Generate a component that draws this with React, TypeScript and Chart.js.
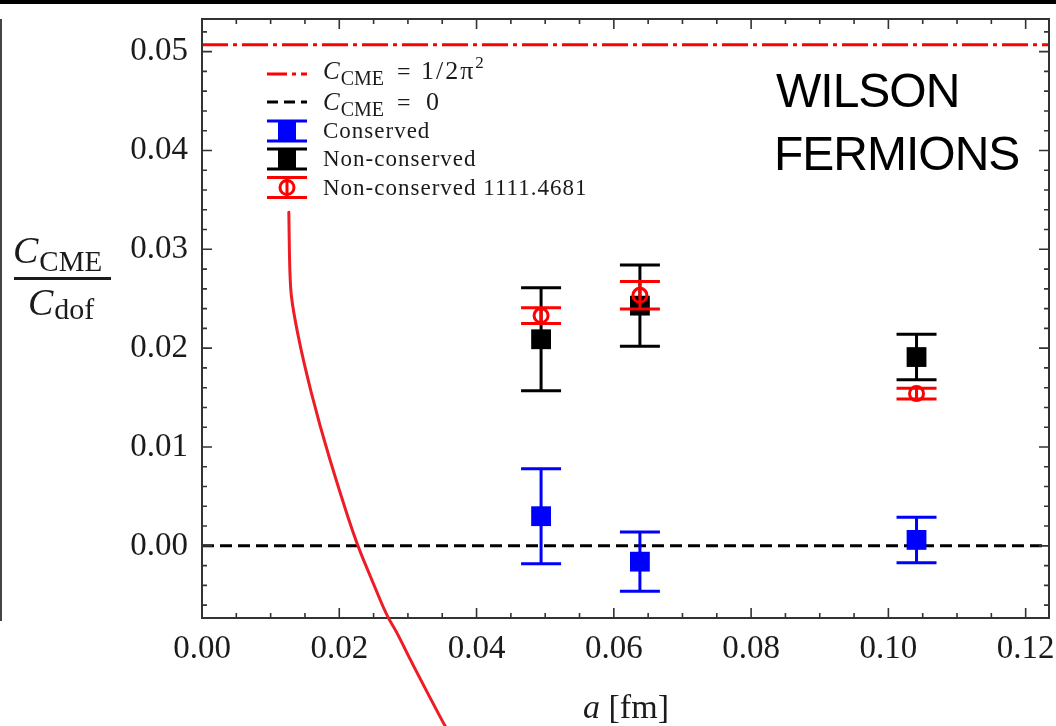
import React, { useEffect, useRef } from "react";
import { Chart, registerables } from "chart.js";

Chart.register(...registerables);

// ---- data ----
const latticeSpacing = [0.0494, 0.0638, 0.1041];
const conserved = [0.003, -0.0016, 0.0006];
const conservedErr = [0.0048, 0.003, 0.0023];
const nonConserved = [0.0209, 0.0243, 0.0191];
const nonConservedErr = [0.0052, 0.0041, 0.0023];
const nonConserved1111 = [0.0233, 0.02535, 0.0154];
const nonConserved1111Err = [0.0008, 0.0014, 0.00054];
const cmeFree = 0.0507; // C_CME = 1/2π²
const cmeZero = 0;
const xRange = [0, 0.1234];
const yRange = [-0.0073, 0.0533];
const xTickLabels = ["0.00", "0.02", "0.04", "0.06", "0.08", "0.10", "0.12"];
const yTickLabels = ["0.00", "0.01", "0.02", "0.03", "0.04", "0.05"];
// hand-drawn red annotation stroke, in data units (x, y)
const annotationX = [0.01265, 0.0128, 0.01324, 0.01469, 0.01716, 0.02007, 0.02255, 0.02487, 0.02691, 0.02836, 0.03025, 0.03505, 0.03564];
const annotationY = [0.03374, 0.02667, 0.02394, 0.01889, 0.01212, 0.00545, 0.0002, -0.00364, -0.00707, -0.00869, -0.01141, -0.01778, -0.01848];

const SERIF = '"Liberation Serif", "Times New Roman", serif';
const TEXT = "#1b1b1b";

const pts = (ys: number[]) => latticeSpacing.map((x, i) => ({ x, y: ys[i] }));
const noPadding = () => ({ left: 0, top: 0, right: 0, bottom: 0 });

const errorBarPlugin = {
  id: "errorBars",
  beforeDatasetDraw(chart: any, args: any) {
    const ds = chart.data.datasets[args.index];
    if (!ds.errors) return;
    const xs = chart.scales.x;
    const ys = chart.scales.y;
    const ctx = chart.ctx;
    ctx.save();
    ctx.strokeStyle = ds.errColor;
    ctx.lineWidth = 3;
    ctx.lineCap = "butt";
    ds.data.forEach((p: any, i: number) => {
      const px = xs.getPixelForValue(p.x);
      const top = ys.getPixelForValue(p.y + ds.errors[i]);
      const bot = ys.getPixelForValue(p.y - ds.errors[i]);
      ctx.beginPath();
      ctx.moveTo(px, top);
      ctx.lineTo(px, bot);
      ctx.moveTo(px - 20, top);
      ctx.lineTo(px + 20, top);
      ctx.moveTo(px - 20, bot);
      ctx.lineTo(px + 20, bot);
      ctx.stroke();
    });
    ctx.restore();
  },
};

function drawSub(ctx: any, x: number, y: number, main: string, mainFont: string, sub: string, subFont: string, subDy: number) {
  ctx.font = mainFont;
  ctx.fillText(main, x, y);
  const w = ctx.measureText(main).width;
  ctx.font = subFont;
  ctx.fillText(sub, x + w + 1, y + subDy);
  return x + w + 1 + ctx.measureText(sub).width;
}

const decorPlugin = {
  id: "decor",
  afterDraw(chart: any) {
    const ctx = chart.ctx;
    const { left, right, top, bottom } = chart.chartArea;
    const xs = chart.scales.x;
    const ys = chart.scales.y;
    ctx.save();
    // frame
    ctx.strokeStyle = "#333";
    ctx.lineWidth = 2;
    ctx.strokeRect(left, top, right - left, bottom - top);
    // inward ticks
    ctx.lineWidth = 1.6;
    ctx.beginPath();
    for (let i = 0; i <= 24; i++) {
      const v = i * 0.005;
      const px = xs.getPixelForValue(v);
      const len = i % 4 === 0 ? 10 : 5;
      ctx.moveTo(px, bottom);
      ctx.lineTo(px, bottom - len);
      ctx.moveTo(px, top);
      ctx.lineTo(px, top + len);
    }
    for (let i = -3; i <= 26; i++) {
      const v = i * 0.002;
      const py = ys.getPixelForValue(v);
      if (py < top || py > bottom) continue;
      const len = i % 5 === 0 ? 10 : 5;
      ctx.moveTo(left, py);
      ctx.lineTo(left + len, py);
      ctx.moveTo(right, py);
      ctx.lineTo(right - len, py);
    }
    ctx.stroke();

    // y-axis title (fraction)
    ctx.fillStyle = TEXT;
    ctx.textBaseline = "alphabetic";
    ctx.textAlign = "left";
    drawSub(ctx, 13, 263, "C", `italic 38px ${SERIF}`, "CME", `29px ${SERIF}`, 8);
    ctx.fillRect(14, 277, 97, 3);
    drawSub(ctx, 28, 315, "C", `italic 38px ${SERIF}`, "dof", `30px ${SERIF}`, 4);

    // x-axis title
    ctx.font = `italic 34px ${SERIF}`;
    const aw = ctx.measureText("a").width;
    ctx.font = `34px ${SERIF}`;
    const bw = ctx.measureText(" [fm]").width;
    const sx = 626 - (aw + bw) / 2;
    ctx.font = `italic 34px ${SERIF}`;
    ctx.fillText("a", sx, 718);
    ctx.font = `34px ${SERIF}`;
    ctx.fillText(" [fm]", sx + aw, 718);

    // legend
    const lx0 = 267, lx1 = 307, tx = 323;
    ctx.lineWidth = 3;
    ctx.strokeStyle = "#ff0000";
    ctx.setLineDash([20, 5, 4, 5]);
    ctx.beginPath(); ctx.moveTo(lx0, 74); ctx.lineTo(lx1, 74); ctx.stroke();
    ctx.strokeStyle = "#000";
    ctx.setLineDash([11, 6]);
    ctx.beginPath(); ctx.moveTo(lx0, 102); ctx.lineTo(lx1, 102); ctx.stroke();
    ctx.setLineDash([]);
    const ebSym = (cy: number, color: string, marker: string) => {
      ctx.strokeStyle = color;
      ctx.fillStyle = color;
      ctx.lineWidth = 3;
      ctx.beginPath();
      ctx.moveTo(lx0, cy - 10); ctx.lineTo(lx1, cy - 10);
      ctx.moveTo(lx0, cy + 10); ctx.lineTo(lx1, cy + 10);
      ctx.moveTo(287, cy - 10); ctx.lineTo(287, cy + 10);
      ctx.stroke();
      if (marker === "rect") {
        ctx.fillRect(278, cy - 9, 18, 18);
      } else {
        ctx.beginPath();
        ctx.arc(287, cy, 7, 0, Math.PI * 2);
        ctx.stroke();
      }
    };
    ebSym(131, "#0000ff", "rect");
    ebSym(159, "#000000", "rect");
    ebSym(187.5, "#ff0000", "circle");

    ctx.fillStyle = TEXT;
    drawSub(ctx, tx, 79, "C", `italic 25px ${SERIF}`, "CME", `20px ${SERIF}`, 6);
    ctx.font = `24px ${SERIF}`;
    ctx.fillText("=", 397, 79);
    ctx.font = `26px ${SERIF}`;
    (ctx as any).letterSpacing = "2px";
    ctx.fillText("1/2π", 421, 79);
    const fw = ctx.measureText("1/2π").width;
    (ctx as any).letterSpacing = "0px";
    ctx.font = `17px ${SERIF}`;
    ctx.fillText("2", 421 + fw, 68);
    drawSub(ctx, tx, 110, "C", `italic 25px ${SERIF}`, "CME", `20px ${SERIF}`, 6);
    ctx.font = `24px ${SERIF}`;
    ctx.fillText("=", 397, 110);
    ctx.font = `26px ${SERIF}`;
    ctx.fillText("0", 426, 110);
    (ctx as any).letterSpacing = "1px";
    ctx.font = `23px ${SERIF}`;
    ctx.fillText("Conserved", tx, 138);
    ctx.fillText("Non-conserved", tx, 166);
    ctx.fillText("Non-conserved 1111.4681", tx, 195);
    (ctx as any).letterSpacing = "0px";

    // handwritten annotation
    ctx.fillStyle = "#000";
    ctx.font = `48px "Liberation Sans", sans-serif`;
    (ctx as any).letterSpacing = "-1px";
    ctx.fillText("WILSON", 776, 107);
    ctx.fillText("FERMIONS", 774, 170);
    (ctx as any).letterSpacing = "0px";

    // hand-drawn red stroke
    ctx.strokeStyle = "#ee1c25";
    ctx.lineWidth = 3;
    ctx.lineJoin = "round";
    ctx.lineCap = "round";
    ctx.beginPath();
    annotationX.forEach((v, i) => {
      const px = xs.getPixelForValue(v);
      const py = ys.getPixelForValue(annotationY[i]);
      if (i === 0) ctx.moveTo(px, py);
      else {
        const pxp = xs.getPixelForValue(annotationX[i - 1]);
        const pyp = ys.getPixelForValue(annotationY[i - 1]);
        ctx.quadraticCurveTo(pxp, pyp, (pxp + px) / 2, (pyp + py) / 2);
        if (i === annotationX.length - 1) ctx.lineTo(px, py);
      }
    });
    ctx.stroke();
    ctx.restore();
  },
};

export default function App() {
  const ref = useRef<HTMLCanvasElement | null>(null);
  useEffect(() => {
    if (!ref.current) return;
    const chart = new Chart(ref.current, {
      type: "scatter",
      data: {
        datasets: [
          {
            label: "Non-conserved 1111.4681",
            data: pts(nonConserved1111),
            errors: nonConserved1111Err,
            errColor: "#ff0000",
            pointStyle: "circle",
            pointRadius: 7,
            pointBorderWidth: 3,
            pointBorderColor: "#ff0000",
            pointBackgroundColor: "rgba(0,0,0,0)",
            order: 1,
          } as any,
          {
            label: "Non-conserved",
            data: pts(nonConserved),
            errors: nonConservedErr,
            errColor: "#000000",
            pointStyle: "rect",
            pointRadius: 14,
            pointBorderWidth: 0,
            pointBackgroundColor: "#000000",
            order: 2,
          } as any,
          {
            label: "Conserved",
            data: pts(conserved),
            errors: conservedErr,
            errColor: "#0000ff",
            pointStyle: "rect",
            pointRadius: 14,
            pointBorderWidth: 0,
            pointBackgroundColor: "#0000ff",
            order: 3,
          } as any,
          {
            type: "line",
            label: "C_CME = 0",
            data: xRange.map((x) => ({ x, y: cmeZero })),
            borderColor: "#000000",
            borderWidth: 3,
            borderDash: [12, 6],
            pointRadius: 0,
            order: 4,
          } as any,
          {
            type: "line",
            label: "C_CME = 1/2π²",
            data: xRange.map((x) => ({ x, y: cmeFree })),
            borderColor: "#ff0000",
            borderWidth: 3,
            borderDash: [26, 5, 4, 5],
            pointRadius: 0,
            order: 5,
          } as any,
        ],
      },
      options: {
        responsive: false,
        animation: false,
        devicePixelRatio: 1,
        layout: { autoPadding: false, padding: { left: 0, top: 19, right: 7, bottom: 0 } },
        plugins: { legend: { display: false }, tooltip: { enabled: false } },
        scales: {
          x: {
            type: "linear",
            min: xRange[0],
            max: xRange[1],
            grid: { display: false, drawTicks: false },
            border: { display: false },
            ticks: {
              stepSize: 0.02,
              includeBounds: false,
              autoSkip: false,
              maxRotation: 0,
              padding: 12,
              color: TEXT,
              font: { family: SERIF, size: 33 },
              callback: (v: any) => xTickLabels[Math.round(Number(v) / 0.02)] ?? "",
            },
            afterFit: (s: any) => {
              s.height = 108;
              s.paddingLeft = 0;
              s.paddingRight = 0;
              s.getPadding = noPadding;
            },
          },
          y: {
            type: "linear",
            min: yRange[0],
            max: yRange[1],
            grid: { display: false, drawTicks: false },
            border: { display: false },
            ticks: {
              stepSize: 0.01,
              includeBounds: false,
              autoSkip: false,
              padding: 14,
              color: TEXT,
              font: { family: SERIF, size: 33 },
              callback: (v: any) => yTickLabels[Math.round(Number(v) / 0.01)] ?? "",
            },
            afterFit: (s: any) => {
              s.width = 202;
              s.paddingTop = 0;
              s.paddingBottom = 0;
              s.getPadding = noPadding;
            },
          },
        },
      } as any,
      plugins: [errorBarPlugin, decorPlugin],
    });
    return () => chart.destroy();
  }, []);

  return (
    <div style={{ position: "fixed", left: 0, top: 0, width: 1056, height: 726, background: "#fff", overflow: "hidden" }}>
      <canvas ref={ref} width={1056} height={726} style={{ display: "block", width: 1056, height: 726 }} />
      <div style={{ position: "absolute", left: 0, top: 0, width: 1056, height: 4, background: "#000" }} />
      <div style={{ position: "absolute", left: 0, top: 19, width: 2, height: 602, background: "#444" }} />
    </div>
  );
}
